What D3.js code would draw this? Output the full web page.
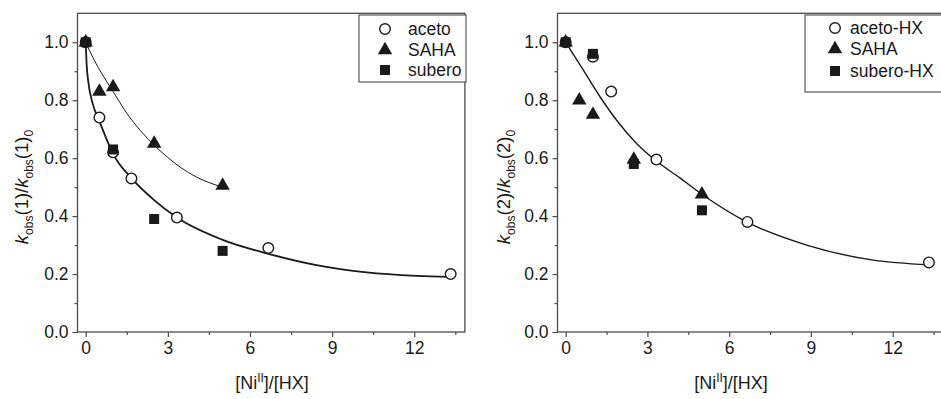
<!DOCTYPE html>
<html>
<head>
<meta charset="utf-8">
<script src="https://cdn.jsdelivr.net/npm/d3@7"></script>
<style>
  body { margin: 0; background: #fff; }
  svg { display: block; font-family: "Liberation Sans", Arial, sans-serif; }
</style>
</head>
<body>
<svg id="chart" width="941" height="399"></svg>
<script>
// x ticks shared by both panels
const xTicks = [0, 3, 6, 9, 12];
const xMinor = [1.5, 4.5, 7.5, 10.5, 13.5];
const yTicks = [0, 0.2, 0.4, 0.6, 0.8, 1.0];
const yMinor = [0.1, 0.3, 0.5, 0.7, 0.9];

// left panel: k_obs(1)/k_obs(1)_0
const acetoX = [0, 0.5, 1, 1.67, 3.33, 6.67, 13.33];
const acetoY = [1.0, 0.74, 0.62, 0.53, 0.395, 0.29, 0.20];
const sahaX1 = [0, 0.5, 1, 2.5, 5];
const sahaY1 = [1.0, 0.83, 0.845, 0.65, 0.505];
const suberoX = [0, 1, 2.5, 5];
const suberoY = [1.0, 0.63, 0.39, 0.28];
// fitted curves
const fitAX = [0, 0.03, 0.1, 0.25, 0.5, 0.75, 1.0, 1.68, 2.5, 3.33, 5.0, 6.67, 8.43, 10.26, 12.08, 13.33];
const fitAY = [1.0, 0.93, 0.86, 0.79, 0.728, 0.668, 0.615, 0.53, 0.455, 0.395, 0.318, 0.27, 0.231, 0.206, 0.194, 0.19];
const fitSX = [0, 0.3, 0.6, 1.0, 1.5, 2.0, 2.5, 3.0, 3.5, 4.0, 4.5, 5.0];
const fitSY = [1.0, 0.94, 0.89, 0.83, 0.755, 0.695, 0.645, 0.602, 0.566, 0.537, 0.516, 0.5];

// right panel: k_obs(2)/k_obs(2)_0
const acetoHXX = [0, 1, 1.67, 3.33, 6.67, 13.33];
const acetoHXY = [1.0, 0.95, 0.83, 0.595, 0.38, 0.24];
const sahaX2 = [0, 0.5, 1, 2.5, 5];
const sahaY2 = [1.0, 0.80, 0.75, 0.595, 0.475];
const suberoHXX = [0, 1, 2.5, 5];
const suberoHXY = [1.0, 0.96, 0.58, 0.42];
const fitBX = [0, 0.65, 1.26, 1.87, 2.6, 3.33, 4.19, 5.05, 6.64, 8.84, 11.29, 13.33];
const fitBY = [1.0, 0.904, 0.812, 0.731, 0.651, 0.59, 0.532, 0.472, 0.38, 0.30, 0.248, 0.232];

const zip = (xs, ys) => xs.map((x, i) => [x, ys[i]]);
const svg = d3.select("#chart");
const ink = "#1a1a1a";
const frame = "#4a4a4a";
const fontFam = "'Liberation Sans', Arial, sans-serif";

function drawPanel(p) {
  const x = d3.scaleLinear().domain([-0.3, 13.85]).range([p.left, p.right]);
  const y = d3.scaleLinear().domain([0, 1.1]).range([332, 13.3]);
  const g = svg.append("g");

  //clip for curves
  const clipId = "clip" + p.id;
  g.append("clipPath").attr("id", clipId)
    .append("rect").attr("x", p.left).attr("y", y(1.1))
    .attr("width", p.right - p.left).attr("height", y(0) - y(1.1));

  //frame
  g.append("rect")
    .attr("x", p.left).attr("y", y(1.1))
    .attr("width", p.right - p.left).attr("height", y(0) - y(1.1))
    .attr("fill", "none").attr("stroke", frame).attr("stroke-width", 1.3);

  //bottom axis, major + minor
  const gx = g.append("g").attr("transform", `translate(0,${y(0)})`)
    .call(d3.axisBottom(x).tickValues(xTicks).tickSize(5).tickPadding(5).tickFormat(d3.format("d")));
  const gxm = g.append("g").attr("transform", `translate(0,${y(0)})`)
    .call(d3.axisBottom(x).tickValues(xMinor).tickSize(3).tickFormat(""));

  //left axis, major + minor
  const gy = g.append("g").attr("transform", `translate(${p.left},0)`)
    .call(d3.axisLeft(y).tickValues(yTicks).tickSize(5).tickPadding(4).tickFormat(d3.format(".1f")));
  const gym = g.append("g").attr("transform", `translate(${p.left},0)`)
    .call(d3.axisLeft(y).tickValues(yMinor).tickSize(3).tickFormat(""));

  [gx, gxm, gy, gym].forEach(a => {
    a.attr("font-family", fontFam).attr("font-size", 17.5);
    a.select(".domain").remove();
    a.selectAll("line").attr("stroke", frame).attr("stroke-width", 1.2);
    a.selectAll("text").attr("fill", ink);
  });

  //curves
  const line = d3.line().x(d => x(d[0])).y(d => y(d[1])).curve(d3.curveMonotoneX);
  p.fits.forEach(f => {
    g.append("path").datum(zip(f.xs, f.ys))
      .attr("d", line).attr("fill", "none")
      .attr("stroke", ink).attr("stroke-width", f.w)
      .attr("clip-path", `url(#${clipId})`);
  });

  //markers
  g.append("g").selectAll("circle").data(zip(p.circles[0], p.circles[1])).join("circle")
    .attr("cx", d => x(d[0])).attr("cy", d => y(d[1])).attr("r", 5.3)
    .attr("fill", "#fff").attr("stroke", ink).attr("stroke-width", 1.4);
  const tri = d3.symbol().type(d3.symbolTriangle).size(90);
  g.append("g").selectAll("path").data(zip(p.tris[0], p.tris[1])).join("path")
    .attr("d", tri).attr("transform", d => `translate(${x(d[0])},${y(d[1])})`)
    .attr("fill", ink);
  const sq = d3.symbol().type(d3.symbolSquare).size(100);
  g.append("g").selectAll("path").data(zip(p.squares[0], p.squares[1])).join("path")
    .attr("d", sq).attr("transform", d => `translate(${x(d[0])},${y(d[1])})`)
    .attr("fill", ink);

  //legend
  const L = p.legend;
  g.append("rect").attr("x", L.x).attr("y", L.y).attr("width", L.w).attr("height", L.h)
    .attr("fill", "#fff").attr("stroke", frame).attr("stroke-width", 1.1);
  const shapes = ["circle", "tri", "sq"];
  p.names.forEach((name, i) => {
    const cy = L.rows[i];
    if (shapes[i] === "circle") {
      g.append("circle").attr("cx", L.sx).attr("cy", cy).attr("r", 5.3)
        .attr("fill", "#fff").attr("stroke", ink).attr("stroke-width", 1.4);
    } else {
      g.append("path").attr("d", shapes[i] === "tri" ? tri : sq)
        .attr("transform", `translate(${L.sx},${cy})`).attr("fill", ink);
    }
    g.append("text").attr("x", L.tx).attr("y", cy + 6).attr("fill", ink)
      .style("font-size", "17.5px").text(name);
  });

  //x title
  const xt = g.append("text").attr("x", p.xTitleX).attr("y", 389)
    .attr("text-anchor", "middle").attr("fill", ink).style("font-size", "18px");
  xt.append("tspan").text("[Ni");
  xt.append("tspan").attr("dy", -7).style("font-size", "12px").text("II");
  xt.append("tspan").attr("dy", 7).text("]/[HX]");

  //y title
  const yt = g.append("text")
    .attr("transform", `translate(${p.yTitleX},187) rotate(-90)`)
    .attr("text-anchor", "middle").attr("fill", ink).style("font-size", "18.5px");
  yt.append("tspan").style("font-style", "italic").text("k");
  yt.append("tspan").attr("dy", 5).style("font-size", "12px").text("obs");
  yt.append("tspan").attr("dy", -5).text(`(${p.n})/`);
  yt.append("tspan").style("font-style", "italic").text("k");
  yt.append("tspan").attr("dy", 5).style("font-size", "12px").text("obs");
  yt.append("tspan").attr("dy", -5).text(`(${p.n})`);
  yt.append("tspan").attr("dy", 5).style("font-size", "12px").text("0");
}

drawPanel({
  id: "L", n: 1, left: 77.5, right: 464.9,
  circles: [acetoX, acetoY], tris: [sahaX1, sahaY1], squares: [suberoX, suberoY],
  fits: [{ xs: fitAX, ys: fitAY, w: 1.8 }, { xs: fitSX, ys: fitSY, w: 1.0 }],
  names: ["aceto", "SAHA", "subero"],
  legend: { x: 359, y: 15, w: 107, h: 67, sx: 385, tx: 408, rows: [29, 50, 70] },
  xTitleX: 272, yTitleX: 28
});

drawPanel({
  id: "R", n: 2, left: 557.5, right: 943.1,
  circles: [acetoHXX, acetoHXY], tris: [sahaX2, sahaY2], squares: [suberoHXX, suberoHXY],
  fits: [{ xs: fitBX, ys: fitBY, w: 1.4 }],
  names: ["aceto-HX", "SAHA", "subero-HX"],
  legend: { x: 805, y: 15, w: 145, h: 77, sx: 835, tx: 850, rows: [28, 49, 71] },
  xTitleX: 731, yTitleX: 510
});
</script>
</body>
</html>
